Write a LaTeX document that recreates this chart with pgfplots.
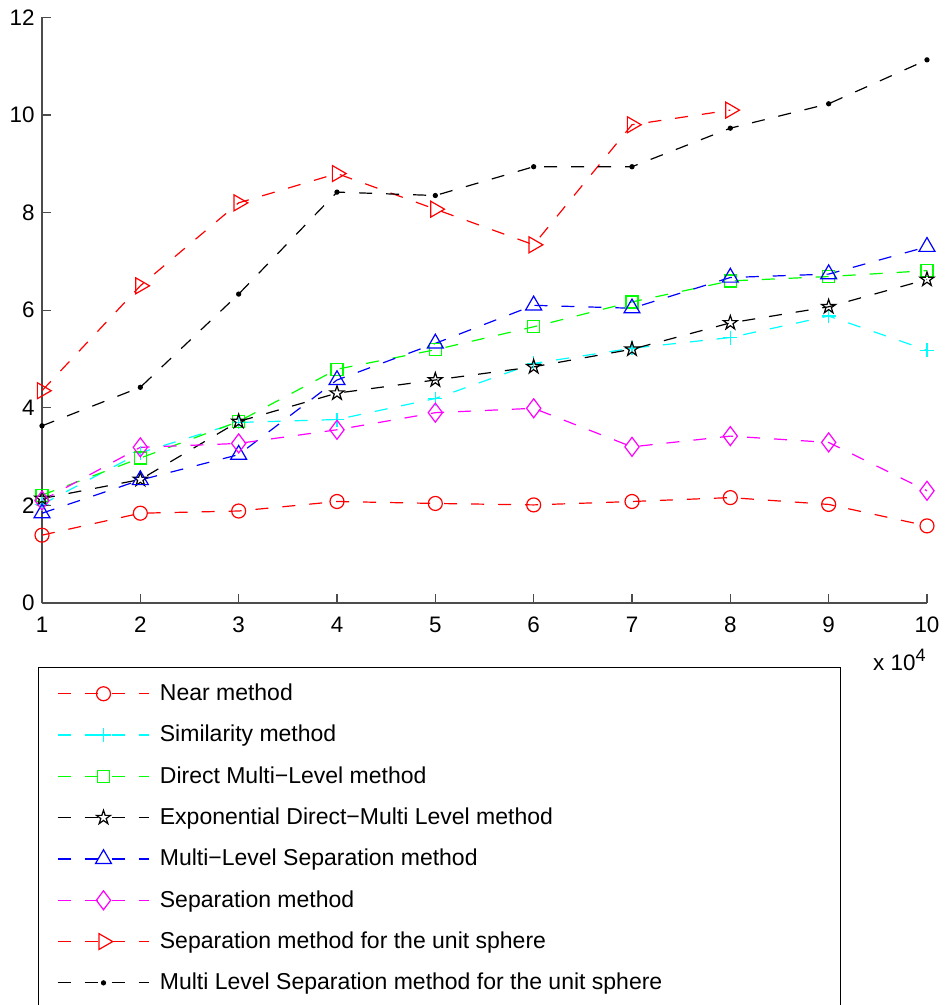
\documentclass[border=0pt]{standalone}
\usepackage{fontspec}
\setmainfont{Liberation Sans}
\usepackage{pgfplots}
\pgfplotsset{compat=1.18}
\usetikzlibrary{plotmarks}

\definecolor{mred}{rgb}{1,0,0}
\definecolor{mcyan}{rgb}{0,1,1}
\definecolor{mgreen}{rgb}{0,1,0}
\definecolor{mblue}{rgb}{0,0,1}
\definecolor{mmagenta}{rgb}{1,0,1}
\definecolor{mblack}{rgb}{0,0,0}

\pgfdeclareplotmark{pentagram}{%
  \pgfpathmoveto{\pgfpointpolar{90}{\pgfplotmarksize}}%
  \pgfpathlineto{\pgfpointpolar{126}{0.382\pgfplotmarksize}}%
  \pgfpathlineto{\pgfpointpolar{162}{\pgfplotmarksize}}%
  \pgfpathlineto{\pgfpointpolar{198}{0.382\pgfplotmarksize}}%
  \pgfpathlineto{\pgfpointpolar{234}{\pgfplotmarksize}}%
  \pgfpathlineto{\pgfpointpolar{270}{0.382\pgfplotmarksize}}%
  \pgfpathlineto{\pgfpointpolar{306}{\pgfplotmarksize}}%
  \pgfpathlineto{\pgfpointpolar{342}{0.382\pgfplotmarksize}}%
  \pgfpathlineto{\pgfpointpolar{18}{\pgfplotmarksize}}%
  \pgfpathlineto{\pgfpointpolar{54}{0.382\pgfplotmarksize}}%
  \pgfpathclose
  \pgfusepathqstroke}

\begin{document}
\begin{tikzpicture}
\begin{axis}[
  scale only axis, width=442.5pt, height=292.8pt,
  xmin=1, xmax=10, ymin=0, ymax=12,
  axis lines*=left,
  axis line style={black!70, line width=0.6pt},
  tick style={black!70, line width=0.6pt},
  tick align=inside,
  major tick length=4.3pt,
  xtick={1,...,10}, ytick={0,2,...,12},
  tick label style={font=\fontsize{11.2}{13}\selectfont},
  /pgf/number format/assume math mode=true,
  xticklabel style={inner sep=0pt, anchor=north, yshift=-6.8pt},
  yticklabel style={inner sep=0pt, anchor=east, xshift=-3.5pt},
  clip=false,
  every axis plot/.append style={line width=0.6pt, dash pattern=on 6.5pt off 7pt},
  legend cell align=left,
  legend style={at={(axis description cs:0,0)}, anchor=north west,
    xshift=-1.85pt, yshift=-32.15pt,
    inner xsep=9.2pt, inner ysep=2.7pt,
    font=\fontsize{11.5}{13}\selectfont,
    nodes={inner sep=0pt, minimum height=20.65pt},
    row sep=0pt, column sep=5pt},
  legend image code/.code={\draw[mark repeat=2, mark phase=2] plot coordinates {(0pt,0pt) (22.9pt,0pt) (45.8pt,0pt)};},
]
\addplot[color=mred, mark=o, mark size=3.5pt, mark options={solid}] coordinates {
 (1,1.39) (2,1.84) (3,1.885) (4,2.08) (5,2.04) (6,2.01) (7,2.08) (8,2.16) (9,2.02) (10,1.58)};
\addlegendentry{Near method}
\addplot[color=mcyan, mark=+, mark size=3.5pt, mark options={solid}] coordinates {
 (1,2.02) (2,3.08) (3,3.70) (4,3.76) (5,4.19) (6,4.91) (7,5.22) (8,5.44) (9,5.88) (10,5.18)};
\addlegendentry{Similarity method}
\addplot[color=mgreen, mark=square, mark size=3pt, mark options={solid}] coordinates {
 (1,2.21) (2,2.97) (3,3.72) (4,4.79) (5,5.19) (6,5.66) (7,6.17) (8,6.60) (9,6.69) (10,6.81)};
\addlegendentry{Direct Multi−Level method}
\addplot[color=mblack, mark=pentagram, mark size=3.7pt, mark options={solid}] coordinates {
 (1,2.14) (2,2.53) (3,3.72) (4,4.30) (5,4.57) (6,4.84) (7,5.20) (8,5.74) (9,6.07) (10,6.63)};
\addlegendentry{Exponential Direct−Multi Level method}
\addplot[color=mblue, mark=triangle, mark size=4.6pt, mark options={solid}] coordinates {
 (1,1.84) (2,2.52) (3,3.04) (4,4.57) (5,5.32) (6,6.10) (7,6.04) (8,6.67) (9,6.74) (10,7.30)};
\addlegendentry{Multi−Level Separation method}
\addplot[color=mmagenta, mark=diamond, mark size=4.75pt, mark options={solid}] coordinates {
 (1,2.10) (2,3.19) (3,3.27) (4,3.55) (5,3.90) (6,3.99) (7,3.20) (8,3.42) (9,3.29) (10,2.30)};
\addlegendentry{Separation method}
\addplot[color=mred, mark=triangle, mark size=4.6pt, mark options={solid, rotate=-90}] coordinates {
 (1,4.35) (2,6.50) (3,8.20) (4,8.80) (5,8.07) (6,7.34) (7,9.80) (8,10.10)};
\addlegendentry{Separation method for the unit sphere}
\addplot[color=mblack, mark=*, mark size=1pt, mark options={solid}] coordinates {
 (1,3.63) (2,4.42) (3,6.33) (4,8.42) (5,8.35) (6,8.94) (7,8.94) (8,9.73) (9,10.23) (10,11.13)};
\addlegendentry{Multi Level Separation method for the unit sphere\hspace*{80pt}}
\node[anchor=base east, inner sep=0pt, xshift=-0.5pt, yshift=-33.85pt, font=\fontsize{11.2}{13}\selectfont] at (rel axis cs:1,0) {x 10\raisebox{4.5pt}{\fontsize{9}{10}\selectfont 4}};
\end{axis}
\pgfresetboundingbox
\path[use as bounding box] (-21pt,-201pt) rectangle (452.5pt,301.5pt);
\end{tikzpicture}
\end{document}
